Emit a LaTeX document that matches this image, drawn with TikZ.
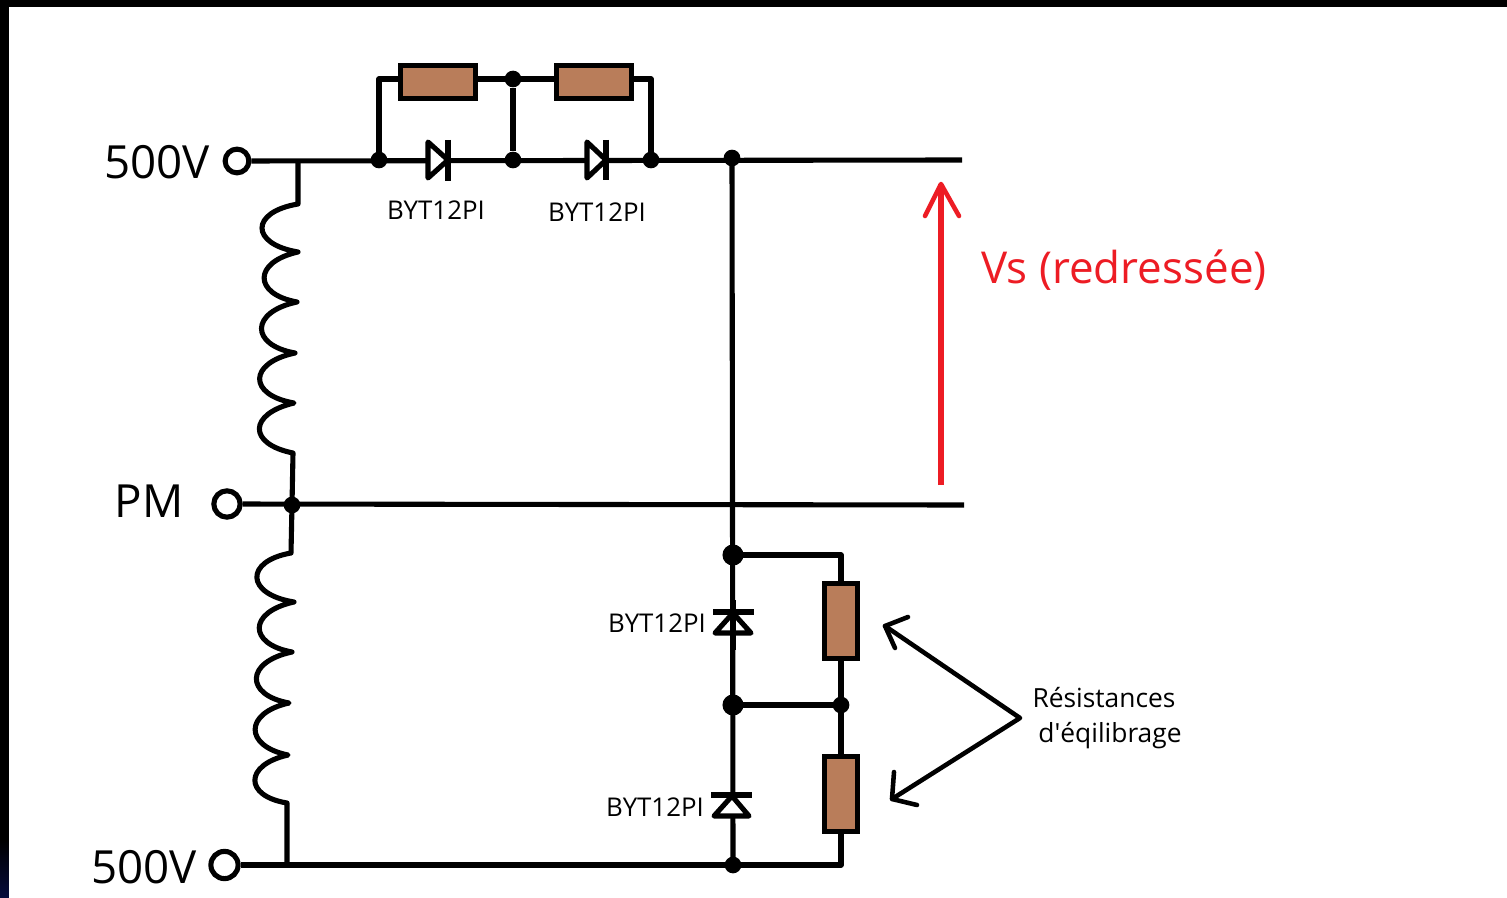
\documentclass[tikz,border=0pt]{standalone}
\usepackage{fontspec}
\setmainfont{Open Sans}
\definecolor{myred}{RGB}{237,28,36}
\definecolor{mybrown}{RGB}{185,125,90}
\definecolor{mynavy}{RGB}{6,12,60}
\tikzset{
    wire/.style={line width=2.9pt,line join=round},
    arrowline/.style={line width=2.6pt,line join=round,line cap=round},
    dot/.style={circle,fill=black,inner sep=0pt,minimum size=9.5pt},
    bigdot/.style={circle,fill=black,inner sep=0pt,minimum size=12pt},
    terminal/.style={circle,draw,fill=white,line width=2.9pt,inner sep=0pt,minimum size=13.5pt},
    resh/.style={draw,fill=mybrown,line width=2.9pt,inner sep=0pt,minimum width=42.5pt,minimum height=18.5pt},
    resv/.style={draw,fill=mybrown,line width=2.9pt,inner sep=0pt,minimum width=18.5pt,minimum height=42.5pt},
    biglabel/.style={font=\fontsize{26}{30}\selectfont,inner sep=0pt},
    redlabel/.style={font=\fontsize{25}{30}\selectfont,inner sep=0pt,text=myred},
    smalllabel/.style={font=\fontsize{14.7}{17}\selectfont,inner sep=0pt},
    notelabel/.style={font=\fontsize{15}{18}\selectfont,inner sep=0pt}
}
\begin{document}
\begin{tikzpicture}[x=0.02cm,y=-0.02cm]
            \useasboundingbox (0,0) rectangle (1507,898);
            \fill[black] (0,0) rectangle (1507,898);
            \shade[top color=black,bottom color=mynavy] (0,840) rectangle (9,898);
            \fill[white] (9,7) rectangle (1507,898);
            % terminals and labels
            \node[terminal] (topin) at (237,161) {};
            \node[terminal,minimum size=15pt] (pmin) at (227,504) {};
            \node[terminal,minimum size=15.5pt] (botin) at (224.5,865) {};
            \node[biglabel] (toptext) at (157,162) {500V};
            \node[biglabel] (pmtext) at (149,501) {PM};
            \node[biglabel] (bottext) at (144,867) {500V};
            % junctions
            \node[dot] (ja) at (379,160) {};
            \node[dot] (jb) at (513,160) {};
            \node[dot] (jc) at (651,160) {};
            \node[dot] (jd) at (732,158) {};
            \node[dot] (je) at (513,79) {};
            \node[dot] (jpm) at (292,505) {};
            \node[bigdot] (jf) at (733,555) {};
            \node[bigdot] (jg) at (733,705) {};
            \node[dot] (jh) at (841,705) {};
            \node[dot] (ji) at (733,865) {};
            % resistors
            \node[resh] (ra) at (438,82) {};
            \node[resh] (rb) at (594,82) {};
            \node[resv] (rc) at (841,621) {};
            \node[resv] (rd) at (841,794) {};
            % free ends
            \coordinate (topend) at (962,160);
            \coordinate (pmend) at (964,505);
            \coordinate (botcorner) at (841,865);
            \coordinate (topcoil) at (298,161);
            \coordinate (botcoil) at (287,865);
            % wires
            \draw[wire] (topin) -- (topend);
            \draw[wire] (pmin) -- (pmend);
            \draw[wire] (botin) -- (botcorner) -- (rd.south);
            \draw[wire] (ja.center) |- (ra.west |- je);
            \draw[wire] (ra.east |- je) -- (rb.west |- je);
            \draw[wire] (je) -- (jb);
            \draw[wire] (rb.east |- je) -| (jc.center);
            \draw[wire] (jd.center) -- (ji.center);
            \draw[wire] (jf.center) -| (rc.north);
            \draw[wire] (jg.center) -- (jh.center);
            \draw[wire] (rc.south) -- (rd.north);
            % coils
            \draw[wire] (topcoil) -- (298,204)
                .. controls (250,212) and (250,244) .. (298,252)
                .. controls (253,262) and (253,294) .. (297,302)
                .. controls (250,312) and (250,345) .. (295,353)
                .. controls (248,363) and (248,395) .. (294,403)
                .. controls (248,414) and (248,444) .. (293,453)
                -- (jpm.center) -- (291,553)
                .. controls (245,561) and (245,594) .. (294,602)
                .. controls (248,612) and (248,644) .. (292,652)
                .. controls (245,662) and (245,695) .. (289,703)
                .. controls (244,713) and (244,746) .. (288,755)
                .. controls (244,765) and (244,796) .. (287,803)
                -- (botcoil);
            % diodes
            \draw[wire,fill=white] (428,142) -- (448,160) -- (428,178) -- cycle;
            \draw[wire] (448,140) -- (448,181);
            \draw[wire,fill=white] (587,142) -- (606,160) -- (587,178) -- cycle;
            \draw[wire] (606,140) -- (606,180);
            \draw[wire,fill=white] (733,613) -- (751,633) -- (715,633) -- cycle;
            \draw[wire] (713,612) -- (754,612);
            \draw[wire] (733,600) -- (733,650);
            \draw[wire,fill=white] (732,796) -- (749,816) -- (714,816) -- cycle;
            \draw[wire] (711,795) -- (752,795);
            \node[smalllabel] (da) at (436,210) {BYT12PI};
            \node[smalllabel] (db) at (597,212) {BYT12PI};
            \node[smalllabel] (dc) at (657,623) {BYT12PI};
            \node[smalllabel] (dd) at (655,807) {BYT12PI};
            % voltage arrow
            \coordinate (vslow) at (941,485);
            \coordinate (vshigh) at (941,184);
            \draw[wire,myred] (vslow) -- (vshigh);
            \draw[arrowline,myred] (925,216) -- (vshigh) -- (959,216);
            \node[redlabel] (vstext) at (1124,270) {Vs (redressée)};
            % balancing resistors note
            \coordinate (fork) at (1020,718);
            \coordinate (tipa) at (885,626);
            \coordinate (tipb) at (892,799);
            \draw[arrowline] (tipa) -- (fork) -- (tipb);
            \draw[arrowline] (908,617) -- (tipa) -- (895,648);
            \draw[arrowline] (894,772) -- (tipb) -- (917,805);
            \node[notelabel] (notea) at (1104,698) {Résistances};
            \node[notelabel] (noteb) at (1110,736) {d\textquotesingle éqilibrage};
        \end{tikzpicture}
\end{document}
